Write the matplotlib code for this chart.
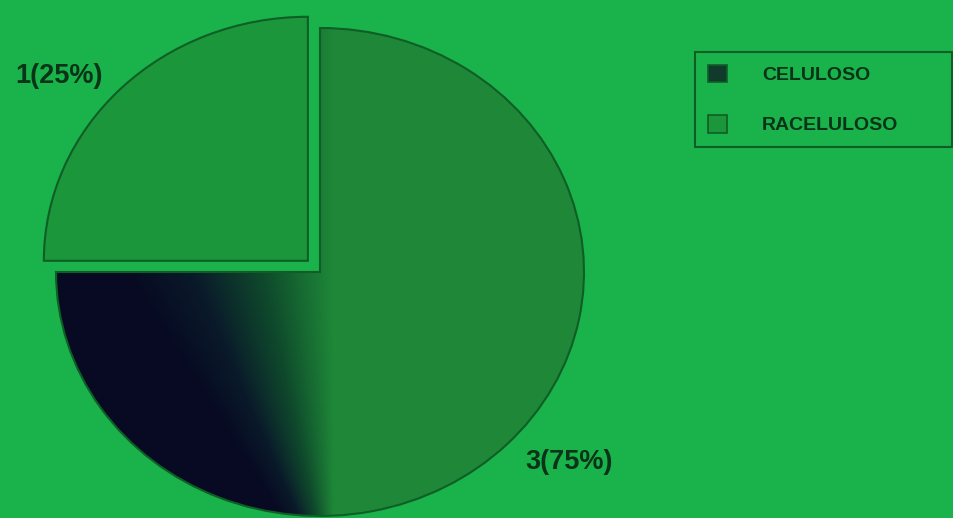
import numpy as np
import matplotlib.pyplot as plt
from matplotlib.patches import Patch
from matplotlib.colors import LinearSegmentedColormap

# data
categories = ['CELULOSO', 'RACELULOSO']
counts = [3, 1]
explode = [0, 0.065]

bg = '#1ab24a'
edge = '#0e5e25'
txt = '#0a3317'
small_col = '#1c963b'
dark = '#070a22'
green = '#1e8838'

total = sum(counts)
labels = [f'{c}({c / total * 100:.0f}%)' for c in counts]

W, H = 954, 518
fig = plt.figure(figsize=(W / 100, H / 100), dpi=100, facecolor=bg)
ax = fig.add_axes([0, 0, 1, 1])

wedges, texts = ax.pie(counts, explode=explode, labels=labels, startangle=180,
                       counterclock=True, labeldistance=1.1,
                       colors=['none', small_col],
                       wedgeprops=dict(edgecolor=edge, linewidth=1.5),
                       textprops=dict(fontsize=19.5, color=txt, fontweight='bold',
                                      family='Liberation Sans'))

# pie centre at (320, 272) px, radii 264 x 244 px -> ellipse
cx, cy, rx, ry = 320, 272, 264, 244
ax.set_aspect('auto')

# shading of the big slice: dark bottom-left, green towards the right
cmap = LinearSegmentedColormap.from_list('shade', [dark, '#0a1a2a', '#0f4a2c', green])
xs = np.linspace(-1.05, 1.05, 500)
ys = np.linspace(-1.05, 1.05, 500)
X, Y = np.meshgrid(xs, ys)
Yc = np.clip(Y, -1, 0)
x0 = -0.75 - 0.6 * Yc
w = 0.8 + 0.6 * Yc
t = np.clip((X - x0) / w, 0, 1)
img = ax.imshow(t, extent=(-1.05, 1.05, -1.05, 1.05), origin='lower', cmap=cmap,
                vmin=0, vmax=1, aspect='auto', zorder=0.5, interpolation='bilinear')
img.set_clip_path(wedges[0])
ax.set_xlim(-cx / rx, (W - cx) / rx)
ax.set_ylim(-(H - cy) / ry, cy / ry)

texts[1].set_y(texts[1].get_position()[1] - 0.02)

handles = [Patch(facecolor='#0f3a2c', edgecolor=edge, linewidth=1.2),
           Patch(facecolor=small_col, edgecolor=edge, linewidth=1.2)]
leg = fig.legend(handles, categories, loc='upper left', mode='expand',
                 bbox_to_anchor=(695 / W, 0, 257 / W, 1 - 52 / H),
                 prop=dict(family='Liberation Sans', size=14, weight='bold'),
                 labelcolor=txt, frameon=True, fancybox=False,
                 edgecolor=edge, facecolor=bg, framealpha=1,
                 handlelength=1.0, handleheight=1.0, handletextpad=1.8,
                 labelspacing=1.6, borderpad=0.65, borderaxespad=0)
leg.get_frame().set_linewidth(1.5)

fig.savefig('out.png', dpi=100, facecolor=bg)
